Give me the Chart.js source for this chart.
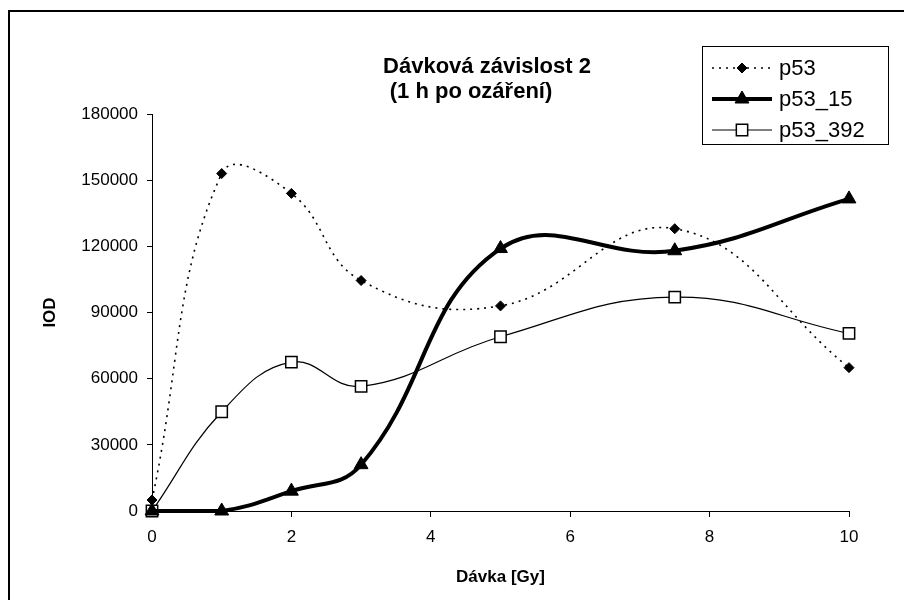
<!DOCTYPE html>
<html>
<head>
<meta charset="utf-8">
<script src="https://cdn.jsdelivr.net/npm/chart.js@4/dist/chart.umd.min.js"></script>
<style>
html,body{margin:0;padding:0;background:#fff;}
#wrap{width:904px;height:600px;position:relative;}
</style>
</head>
<body>
<div id="wrap"><canvas id="c" width="904" height="600"></canvas></div>
<script>
// ---- data ----
const doses = [0, 1, 2, 3, 5, 7.5, 10];
const p53 = [5000, 153000, 144000, 104500, 93000, 128000, 65000];
const p53_15 = [0, 0, 9000, 21000, 119000, 118000, 141500];
const p53_392 = [0, 45000, 67500, 56500, 79000, 97000, 80500];
const seriesNames = ['p53', 'p53_15', 'p53_392'];
const xTickValues = [0, 2, 4, 6, 8, 10];
const yTickValues = [0, 30000, 60000, 90000, 120000, 150000, 180000];
const titleLines = ['Dávková závislost 2', '(1 h po ozáření)'];
const xAxisTitle = 'Dávka [Gy]';
const yAxisTitle = 'IOD';

const FONT = '"Liberation Sans", Arial, Helvetica, sans-serif';
const toPoints = (vals) => doses.map((d, i) => ({x: d, y: vals[i]}));

const framePlugin = {
  id: 'frame',
  beforeDraw(chart) {
    const ctx = chart.ctx;
    ctx.save();
    ctx.fillStyle = '#fff';
    ctx.fillRect(0, 0, chart.width, chart.height);
    ctx.strokeStyle = '#000';
    ctx.lineWidth = 2;
    ctx.beginPath();
    ctx.moveTo(9, 600);
    ctx.lineTo(9, 11);
    ctx.lineTo(904, 11);
    ctx.stroke();
    ctx.restore();
  },
  afterDraw(chart) {
    const ctx = chart.ctx;
    ctx.save();
    // chart title
    ctx.fillStyle = '#000';
    ctx.font = 'bold 22px ' + FONT;
    ctx.textAlign = 'center';
    ctx.textBaseline = 'middle';
    ctx.fillText(titleLines[0], 487, 67);
    ctx.fillText(titleLines[1], 471, 92);
    // legend
    const bx = 702, by = 46, bw = 186, bh = 98;
    ctx.strokeStyle = '#000';
    ctx.lineWidth = 1;
    ctx.strokeRect(bx + 0.5, by + 0.5, bw, bh);
    chart.data.datasets.forEach((ds, i) => {
      const y = by + 22 + i * 31;
      ctx.save();
      ctx.beginPath();
      ctx.setLineDash(ds.borderDash || []);
      ctx.lineWidth = ds.borderWidth;
      ctx.strokeStyle = ds.borderColor;
      ctx.moveTo(712, y);
      ctx.lineTo(772, y);
      ctx.stroke();
      ctx.setLineDash([]);
      ctx.fillStyle = ds.pointBackgroundColor;
      ctx.strokeStyle = ds.pointBorderColor;
      ctx.lineWidth = ds.pointBorderWidth;
      Chart.helpers.drawPoint(ctx, {
        pointStyle: ds.pointStyle, radius: ds.pointRadius, rotation: 0,
        borderWidth: ds.pointBorderWidth
      }, 742, y);
      ctx.restore();
      ctx.fillStyle = '#000';
      ctx.font = '22px ' + FONT;
      ctx.textAlign = 'left';
      ctx.textBaseline = 'middle';
      ctx.fillText(ds.label, 779, y + 1);
    });
    ctx.restore();
  }
};

new Chart(document.getElementById('c'), {
  type: 'line',
  data: {
    datasets: [
      {
        label: seriesNames[0], data: toPoints(p53),
        borderColor: '#000', borderWidth: 1.6, borderDash: [2, 5],
        pointStyle: 'rectRot', pointRadius: 5, pointBackgroundColor: '#000',
        pointBorderColor: '#000', pointBorderWidth: 1, tension: 0.42, fill: false, clip: false
      },
      {
        label: seriesNames[1], data: toPoints(p53_15),
        borderColor: '#000', borderWidth: 4,
        pointStyle: 'triangle', pointRadius: 8, pointBackgroundColor: '#000',
        pointBorderColor: '#000', pointBorderWidth: 1, tension: 0.42, fill: false, clip: false
      },
      {
        label: seriesNames[2], data: toPoints(p53_392),
        borderColor: '#000', borderWidth: 1.2,
        pointStyle: 'rect', pointRadius: 8, pointBackgroundColor: '#fff',
        pointBorderColor: '#000', pointBorderWidth: 1.5, tension: 0.42, fill: false, clip: false
      }
    ]
  },
  options: {
    responsive: false,
    animation: false,
    devicePixelRatio: 1,
    layout: { padding: { left: 0, right: 55, top: 114, bottom: 0 } },
    plugins: { legend: { display: false }, title: { display: false }, tooltip: { enabled: false } },
    scales: {
      x: {
        type: 'linear', min: 0, max: 10,
        afterFit(scale) { scale.height = 89; },
        afterBuildTicks(scale) { scale.ticks = xTickValues.map(v => ({value: v})); },
        grid: { display: true, drawOnChartArea: false, drawTicks: true, tickLength: 6, color: '#000', lineWidth: 1 },
        border: { display: true, color: '#000', width: 1 },
        ticks: { color: '#000', font: { family: FONT, size: 17 }, padding: 10, maxRotation: 0 },
        title: { display: true, text: xAxisTitle, color: '#000', font: { family: FONT, size: 17, weight: 'bold' }, padding: { top: 0, bottom: 12 } }
      },
      y: {
        type: 'linear', min: 0, max: 180000,
        afterFit(scale) { scale.width = 152; },
        afterBuildTicks(scale) { scale.ticks = yTickValues.map(v => ({value: v})); },
        grid: { display: true, drawOnChartArea: false, drawTicks: true, tickLength: 5, color: '#000', lineWidth: 1 },
        border: { display: true, color: '#000', width: 1 },
        ticks: { color: '#000', font: { family: FONT, size: 17 }, padding: 9, callback: (v) => String(v) },
        title: { display: true, text: yAxisTitle, color: '#000', font: { family: FONT, size: 17, weight: 'bold' }, padding: { top: 40, bottom: 0 } }
      }
    }
  },
  plugins: [framePlugin]
});
</script>
</body>
</html>
